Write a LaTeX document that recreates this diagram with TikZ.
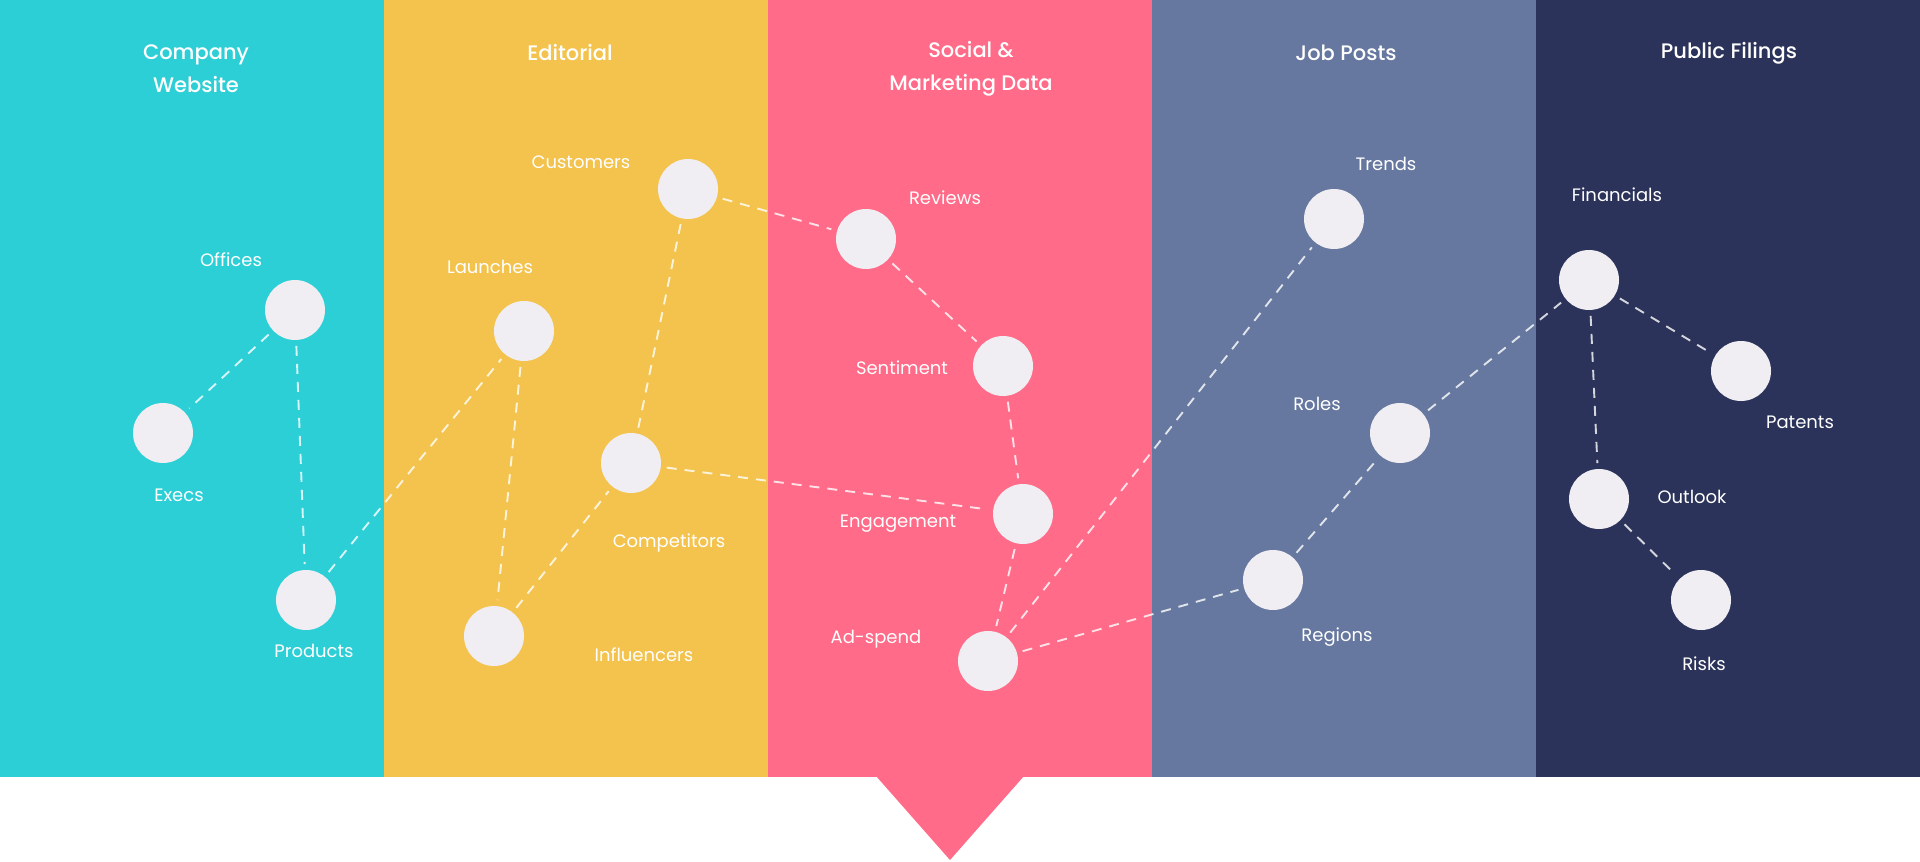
\documentclass[tikz,border=0pt]{standalone}
\usepackage{fontspec}
\setmainfont{Poppins}
\newfontfamily\titlefont{Poppins Medium}
\definecolor{cteal}{HTML}{2DCFD7}
\definecolor{cyellow}{HTML}{F3C34E}
\definecolor{cpink}{HTML}{FF6B88}
\definecolor{cslate}{HTML}{66789F}
\definecolor{cnavy}{HTML}{2C335A}
\definecolor{cdot}{HTML}{F0EEF2}
\tikzset{
  dot/.style={circle, fill=cdot, minimum size=60pt, inner sep=0pt, outer sep=0pt},
  lbl/.style={text=white, font=\fontsize{18}{22}\selectfont, inner sep=0pt},
  ttl/.style={text=white, font=\titlefont\fontsize{21}{33}\selectfont, align=center, inner sep=0pt},
  edge/.style={draw=white, draw opacity=0.8, line width=1.9pt, dash pattern=on 10pt off 8pt, shorten >=6pt, shorten <=6pt}
}
\begin{document}
\begin{tikzpicture}[x=1pt,y=-1pt]
\useasboundingbox (0,0) rectangle (1920,862);
\fill[white] (0,0) rectangle (1920,862);
\fill[cteal] (0,0) rectangle (384,777);
\fill[cyellow] (384,0) rectangle (768,777);
\fill[cpink] (768,0) rectangle (1152,777);
\fill[cslate] (1152,0) rectangle (1536,777);
\fill[cnavy] (1536,0) rectangle (1920,777);
\fill[cpink] (876,776) -- (1024,776) -- (950,860) -- cycle;

% titles
\node[ttl] (t1) at (196,69) {Company\\Website};
\node[ttl] (t2) at (570,53) {Editorial};
\node[ttl] (t3) at (971,69) {Social \&\\Marketing Data};
\node[ttl] (t4) at (1346,53) {Job Posts};
\node[ttl] (t5) at (1729,53) {Public Filings};

% dots
\node[dot] (offices) at (295,310) {};
\node[dot] (execs) at (163,433) {};
\node[dot] (products) at (306,600) {};
\node[dot] (launches) at (524,331) {};
\node[dot] (customers) at (688,189) {};
\node[dot] (competitors) at (631,463) {};
\node[dot] (influencers) at (494,636) {};
\node[dot] (reviews) at (866,239) {};
\node[dot] (sentiment) at (1003,366) {};
\node[dot] (engagement) at (1023,514) {};
\node[dot] (adspend) at (988,661) {};
\node[dot] (trends) at (1334,219) {};
\node[dot] (roles) at (1400,433) {};
\node[dot] (regions) at (1273,580) {};
\node[dot] (financials) at (1589,280) {};
\node[dot] (patents) at (1741,371) {};
\node[dot] (outlook) at (1599,499) {};
\node[dot] (risks) at (1701,600) {};

\draw[edge] (offices) -- (execs);
\draw[edge] (offices) -- (products);
\draw[edge] (products) -- (launches);
\draw[edge] (launches) -- (influencers);
\draw[edge] (influencers) -- (competitors);
\draw[edge] (competitors) -- (customers);
\draw[edge] (customers) -- (reviews);
\draw[edge] (reviews) -- (sentiment);
\draw[edge] (sentiment) -- (engagement);
\draw[edge] (competitors) -- (engagement);
\draw[edge] (engagement) -- (adspend);
\draw[edge] (adspend) -- (trends);
\draw[edge] (adspend) -- (regions);
\draw[edge] (regions) -- (roles);
\draw[edge] (roles) -- (financials);
\draw[edge] (financials) -- (patents);
\draw[edge] (financials) -- (outlook);
\draw[edge] (outlook) -- (risks);

% labels
\node[lbl] (l-offices) at (231,260) {Offices};
\node[lbl] (l-execs) at (179,495) {Execs};
\node[lbl] (l-products) at (314,651) {Products};
\node[lbl] (l-launches) at (490,267) {Launches};
\node[lbl] (l-customers) at (581,162) {Customers};
\node[lbl] (l-competitors) at (669,543) {Competitors};
\node[lbl] (l-influencers) at (644,655) {Influencers};
\node[lbl] (l-reviews) at (945,198) {Reviews};
\node[lbl] (l-sentiment) at (902,368) {Sentiment};
\node[lbl] (l-engagement) at (898,524) {Engagement};
\node[lbl] (l-adspend) at (876,639) {Ad-spend};
\node[lbl] (l-trends) at (1386,164) {Trends};
\node[lbl] (l-roles) at (1317,404) {Roles};
\node[lbl] (l-regions) at (1337,637) {Regions};
\node[lbl] (l-financials) at (1617,195) {Financials};
\node[lbl] (l-patents) at (1800,422) {Patents};
\node[lbl] (l-outlook) at (1692,497) {Outlook};
\node[lbl] (l-risks) at (1704,664) {Risks};
\end{tikzpicture}
\end{document}
